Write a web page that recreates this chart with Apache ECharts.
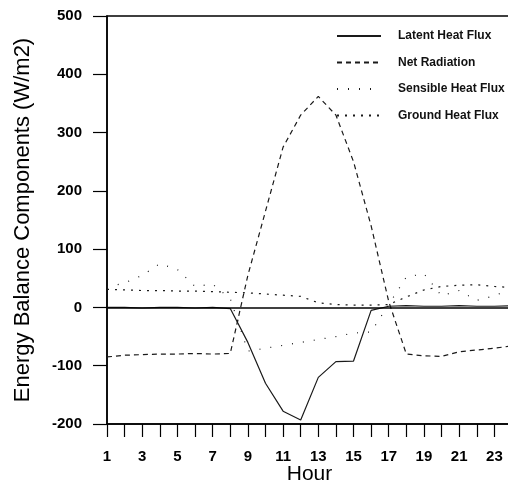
<!DOCTYPE html>
<html>
<head>
<meta charset="utf-8">
<script src="https://cdn.jsdelivr.net/npm/echarts@6/dist/echarts.min.js"></script>
<style>
  html, body { margin: 0; padding: 0; background: #fff; }
  #chart { width: 508px; height: 486px; }
</style>
</head>
<body>
<div id="chart"></div>
<script>
// hours of the day
var hours = [1,2,3,4,5,6,7,8,9,10,11,12,13,14,15,16,17,18,19,20,21,22,23,24];
// values (W/m2)
var latentHeat   = [0,0,-1,0,0,-1,0,-2,-60,-130,-178,-193,-120,-93,-92,-5,2,3,2,2,3,2,2,3];
var netRadiation = [-85,-82,-81,-80,-80,-79,-80,-79,55,165,275,330,362,330,250,140,10,-80,-83,-84,-76,-73,-70,-66];
var sensibleHeat = [35,42,55,75,65,36,40,15,-75,-70,-65,-60,-55,-50,-44,-42,5,52,58,20,29,12,20,32];
var groundHeat   = [31,30,29,29,28,28,27,26,25,23,21,19,8,5,4,4,5,18,30,36,38,39,36,34];
var yTicks = [-200,-100,0,100,200,300,400,500];

var FONT = "'Liberation Sans', Arial, sans-serif";

function pairs(vals) {
    var out = [];
    for (var i = 0; i < hours.length; i++) {
        out.push([hours[i], vals[i]]);
    }
    return out;
}

function lineSeries(name, vals, dash) {
    return {
        name: name,
        type: 'line',
        data: pairs(vals),
        symbol: 'none',
        lineStyle: { color: '#1a1a1a', width: 1.2, type: dash },
        itemStyle: { color: '#1a1a1a' }
    };
}

var myChart = echarts.init(document.getElementById('chart'));

var series = [
    lineSeries('Latent Heat Flux', latentHeat, 'solid'),
    lineSeries('Net Radiation', netRadiation, [5, 4]),
    lineSeries('Sensible Heat Flux', sensibleHeat, [1, 10]),
    lineSeries('Ground Heat Flux', groundHeat, [2, 6])
];
// zero reference line
series[0].markLine = {
    silent: true,
    symbol: 'none',
    label: { show: false },
    lineStyle: { color: '#000', type: 'solid', width: 1.6 },
    data: [{ yAxis: 0 }]
};

myChart.setOption({
    animation: false,
    textStyle: { fontFamily: FONT },
    grid: {
        left: 107, right: -4, top: 16, bottom: 62,
        show: true, borderColor: '#000', borderWidth: 1.5,
        outerBoundsMode: 'none'
    },
    legend: {
        orient: 'vertical',
        left: 331, top: 25,
        itemWidth: 44, itemHeight: 14, itemGap: 14.5,
        itemStyle: { opacity: 0 },
        textStyle: { fontFamily: FONT, fontSize: 12, fontWeight: 'bold', color: '#111', padding: [0, 0, 0, 12] },
        data: ['Latent Heat Flux', 'Net Radiation', 'Sensible Heat Flux', 'Ground Heat Flux']
    },
    xAxis: {
        type: 'value',
        min: 1, max: 24, interval: 1,
        name: 'Hour',
        nameLocation: 'middle',
        nameGap: 40,
        nameMoveOverlap: false,
        nameTextStyle: { fontFamily: FONT, fontSize: 21, color: '#000' },
        axisLine: { onZero: false, lineStyle: { color: '#000', width: 1.5 } },
        axisTick: { length: 13, lineStyle: { color: '#000', width: 1.2 } },
        axisLabel: {
            margin: 25,
            fontFamily: FONT, fontSize: 15, fontWeight: 'bold', color: '#000',
            formatter: function (v) { return (v % 2 === 1 && v < 24) ? String(v) : ''; }
        },
        splitLine: { show: false }
    },
    yAxis: {
        type: 'value',
        min: yTicks[0], max: yTicks[yTicks.length - 1], interval: 100,
        name: 'Energy Balance Components (W/m2)',
        nameLocation: 'middle',
        nameGap: 73,
        nameMoveOverlap: false,
        nameTextStyle: { fontFamily: FONT, fontSize: 22, color: '#000' },
        axisLine: { show: true, onZero: false, lineStyle: { color: '#000', width: 1.5 } },
        axisTick: { show: true, length: 14, lineStyle: { color: '#000', width: 1.2 } },
        axisLabel: { margin: 25, fontFamily: FONT, fontSize: 15, fontWeight: 'bold', color: '#000' },
        splitLine: { show: false }
    },
    series: series
});
</script>
</body>
</html>
